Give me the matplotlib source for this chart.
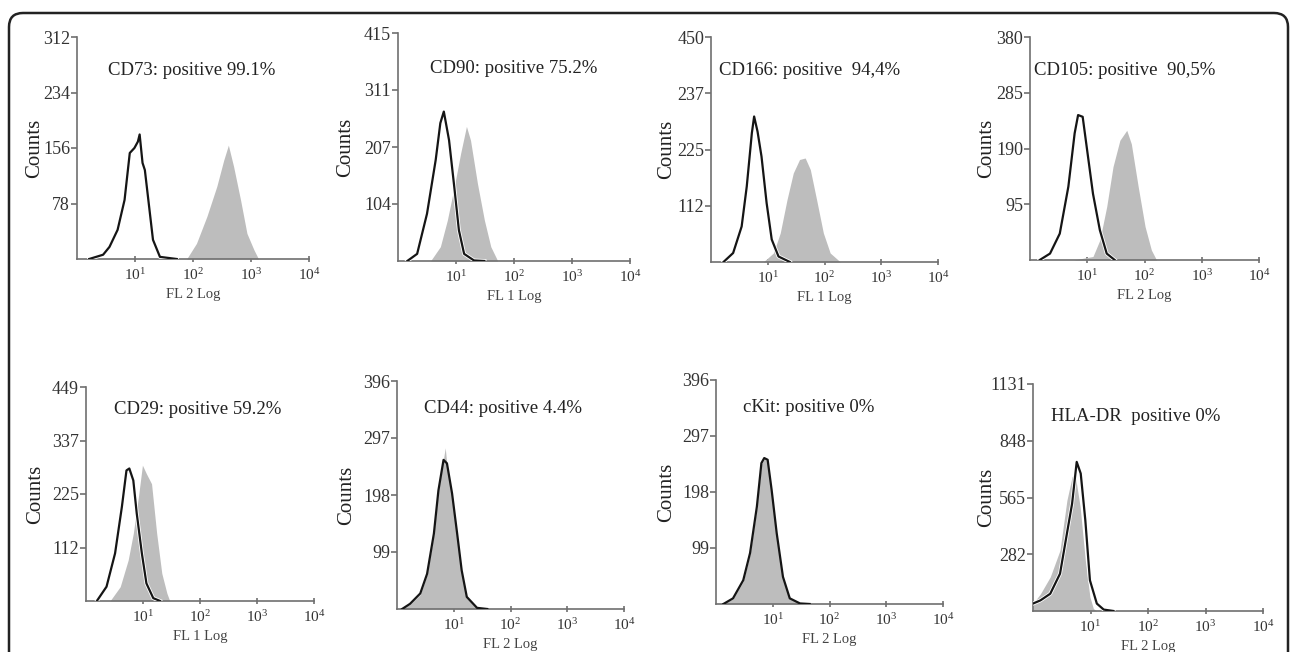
import matplotlib
matplotlib.use("Agg")
import matplotlib.pyplot as plt
from matplotlib.patches import FancyBboxPatch
from matplotlib.ticker import FixedLocator, NullLocator
import numpy as np

plt.rcParams['font.family'] = ['Liberation Serif', 'DejaVu Serif']
plt.rcParams['mathtext.fontset'] = 'custom'
plt.rcParams['mathtext.rm'] = 'Liberation Serif'

# panel text
titles = ["CD73: positive 99.1%", "CD90: positive 75.2%", "CD166: positive  94,4%",
          "CD105: positive  90,5%", "CD29: positive 59.2%", "CD44: positive 4.4%",
          "cKit: positive 0%", "HLA-DR  positive 0%"]
xlabels = ["FL 2 Log", "FL 1 Log", "FL 1 Log", "FL 2 Log",
           "FL 1 Log", "FL 2 Log", "FL 2 Log", "FL 2 Log"]
ymax = [312, 415, 450, 380, 449, 396, 396, 1131]
ytick_labels = [["78", "156", "234", "312"],
                ["104", "207", "311", "415"],
                ["112", "225", "237", "450"],
                ["95", "190", "285", "380"],
                ["112", "225", "337", "449"],
                ["99", "198", "297", "396"],
                ["99", "198", "297", "396"],
                ["282", "565", "848", "1131"]]

# histograms: x in decades (log10 of FL), y in counts
# open = isotype control (black outline), fill = marker (grey)
cd73_open_x = [0.21, 0.45, 0.56, 0.70, 0.82, 0.91, 0.99, 1.05, 1.08, 1.13, 1.17, 1.23, 1.31, 1.43, 1.72]
cd73_open_y = [0, 6, 17, 41, 83, 149, 156, 165, 175, 135, 125, 83, 27, 3, 0]
cd73_fill_x = [1.89, 2.06, 2.24, 2.41, 2.53, 2.61, 2.70, 2.82, 2.93, 3.05, 3.13]
cd73_fill_y = [0, 22, 60, 102, 139, 160, 130, 83, 36, 13, 0]

cd90_open_x = [0.16, 0.33, 0.50, 0.65, 0.73, 0.79, 0.88, 0.97, 1.05, 1.14, 1.31, 1.49]
cd90_open_y = [0, 13, 86, 184, 251, 272, 220, 135, 56, 13, 1, 0]
cd90_fill_x = [0.56, 0.73, 0.85, 0.97, 1.08, 1.18, 1.25, 1.37, 1.49, 1.60, 1.72]
cd90_fill_y = [0, 26, 74, 135, 196, 245, 220, 141, 74, 26, 0]

cd166_open_x = [0.22, 0.39, 0.54, 0.63, 0.72, 0.76, 0.82, 0.89, 0.98, 1.07, 1.19, 1.39]
cd166_open_y = [0, 18, 71, 151, 258, 291, 261, 211, 118, 45, 11, 0]
cd166_fill_x = [0.92, 1.10, 1.22, 1.34, 1.45, 1.56, 1.66, 1.75, 1.86, 1.98, 2.10, 2.28]
cd166_fill_y = [0, 18, 58, 125, 178, 205, 208, 185, 125, 58, 18, 0]

cd105_open_x = [0.17, 0.35, 0.52, 0.67, 0.78, 0.84, 0.92, 0.99, 1.10, 1.22, 1.34, 1.48]
cd105_open_y = [0, 11, 45, 125, 216, 247, 244, 193, 113, 51, 11, 0]
cd105_fill_x = [0.76, 1.10, 1.22, 1.34, 1.45, 1.57, 1.69, 1.77, 1.89, 2.01, 2.12, 2.21]
cd105_fill_y = [0, 6, 34, 91, 159, 204, 221, 198, 125, 57, 17, 0]

cd29_open_x = [0.19, 0.36, 0.51, 0.63, 0.71, 0.76, 0.83, 0.89, 0.98, 1.06, 1.18, 1.30]
cd29_open_y = [0, 30, 100, 198, 274, 278, 253, 184, 100, 37, 6, 0]
cd29_fill_x = [0.42, 0.60, 0.74, 0.83, 0.92, 0.99, 1.06, 1.15, 1.24, 1.33, 1.42, 1.47]
cd29_fill_y = [0, 30, 86, 142, 219, 285, 267, 246, 142, 58, 16, 0]

cd44_open_x = [0.09, 0.23, 0.41, 0.53, 0.65, 0.73, 0.82, 0.88, 0.97, 1.06, 1.14, 1.23, 1.41, 1.59]
cd44_open_y = [0, 9, 27, 61, 131, 206, 259, 253, 201, 131, 67, 21, 2, 0]
cd44_fill_x = [0.09, 0.23, 0.41, 0.53, 0.65, 0.73, 0.85, 0.88, 0.97, 1.06, 1.14, 1.23, 1.41, 1.59]
cd44_fill_y = [0, 8, 25, 60, 130, 205, 280, 250, 200, 130, 66, 20, 2, 0]

ckit_open_x = [0.13, 0.30, 0.48, 0.60, 0.72, 0.80, 0.85, 0.91, 0.98, 1.07, 1.18, 1.30, 1.48, 1.65]
ckit_open_y = [0, 10, 42, 90, 172, 249, 258, 255, 202, 125, 48, 10, 1, 0]
ckit_fill_x = [0.13, 0.30, 0.48, 0.60, 0.72, 0.80, 0.85, 0.91, 0.98, 1.07, 1.18, 1.30, 1.48, 1.65]
ckit_fill_y = [0, 9, 40, 88, 170, 247, 256, 253, 200, 123, 46, 9, 1, 0]

hla_open_x = [0.0, 0.13, 0.30, 0.47, 0.59, 0.68, 0.76, 0.83, 0.91, 0.99, 1.11, 1.23, 1.40]
hla_open_y = [37, 53, 86, 186, 386, 535, 743, 685, 452, 153, 37, 7, 0]
hla_fill_x = [0.0, 0.13, 0.30, 0.47, 0.59, 0.68, 0.73, 0.82, 0.91, 0.99, 1.05, 1.11]
hla_fill_y = [37, 86, 170, 303, 552, 669, 685, 519, 253, 70, 12, 0]

open_x = [cd73_open_x, cd90_open_x, cd166_open_x, cd105_open_x, cd29_open_x, cd44_open_x, ckit_open_x, hla_open_x]
open_y = [cd73_open_y, cd90_open_y, cd166_open_y, cd105_open_y, cd29_open_y, cd44_open_y, ckit_open_y, hla_open_y]
fill_x = [cd73_fill_x, cd90_fill_x, cd166_fill_x, cd105_fill_x, cd29_fill_x, cd44_fill_x, ckit_fill_x, hla_fill_x]
fill_y = [cd73_fill_y, cd90_fill_y, cd166_fill_y, cd105_fill_y, cd29_fill_y, cd44_fill_y, ckit_fill_y, hla_fill_y]

# layout in pixels: left, right, top, bottom of each plot area
W, H = 1290, 652
boxes = [(77, 309, 37, 259), (398, 630, 33, 261), (711, 938, 37, 262), (1030, 1259, 37, 260),
         (86, 314, 387, 601), (397, 624, 381, 609), (716, 943, 380, 604), (1033, 1263, 384, 611)]
title_pos = [(0.133, 0.85), (0.138, 0.846), (0.035, 0.853), (0.017, 0.85),
             (0.123, 0.897), (0.119, 0.88), (0.119, 0.875), (0.078, 0.855)]
counts_x = [-0.14, -0.185, -0.154, -0.148, -0.18, -0.18, -0.176, -0.16]
halo = [True, True, True, True, True, False, False, True]

fig = plt.figure(figsize=(W / 100, H / 100), dpi=100)

# rounded frame
bg = fig.add_axes([0, 0, 1, 1], zorder=-1)
bg.set_xlim(0, W)
bg.set_ylim(H, 0)
bg.axis('off')
bg.add_patch(FancyBboxPatch((9, 13), 1279, 720, boxstyle="round,pad=0,rounding_size=14",
                            fc='white', ec='#222222', lw=1.8))

axcol = '#707070'
for i in range(8):
    l, r, t, b = boxes[i]
    ax = fig.add_axes([l / W, (H - b) / H, (r - l) / W, (b - t) / H])
    ax.patch.set_alpha(0)

    fx = 10 ** np.array(fill_x[i])
    ox = 10 ** np.array(open_x[i])
    ax.fill_between(fx, 0, fill_y[i], color='#bdbdbd', lw=0, zorder=2)
    if halo[i]:
        ax.plot(ox, open_y[i], color='white', lw=2.8, zorder=3, solid_joinstyle='round')
    ax.plot(ox, open_y[i], color='#151515', lw=1.6, zorder=4, solid_joinstyle='round')

    ax.set_xscale('log')
    ax.set_xlim(1, 1e4)
    ax.set_ylim(0, ymax[i])
    ax.xaxis.set_major_locator(FixedLocator([10, 100, 1000, 10000]))
    ax.xaxis.set_minor_locator(NullLocator())
    ax.set_xticklabels([r'$\mathregular{10^{%d}}$' % k for k in range(1, 5)])
    ax.yaxis.set_major_locator(FixedLocator([ymax[i] * k / 4 for k in range(1, 5)]))
    ax.set_yticklabels(ytick_labels[i])

    for s in ['top', 'right']:
        ax.spines[s].set_visible(False)
    for s in ['left', 'bottom']:
        ax.spines[s].set_color(axcol)
        ax.spines[s].set_linewidth(1.2)
    ax.tick_params(axis='x', direction='inout', length=5, width=1.2, color=axcol,
                   labelsize=11, pad=3, labelcolor='#333333')
    ax.tick_params(axis='y', direction='out', length=4, width=1.2, color=axcol,
                   labelsize=13, pad=1, labelcolor='#333333')

    ax.set_xlabel(xlabels[i], fontsize=10.5, color='#444444', labelpad=4)
    ax.set_ylabel('Counts', fontsize=15, color='#222222')
    ax.yaxis.set_label_coords(counts_x[i], 0.5)
    ax.text(title_pos[i][0], title_pos[i][1], titles[i], transform=ax.transAxes,
            fontsize=13.5, color='#222222', ha='left', va='center')

fig.savefig('out.png', dpi=100)
